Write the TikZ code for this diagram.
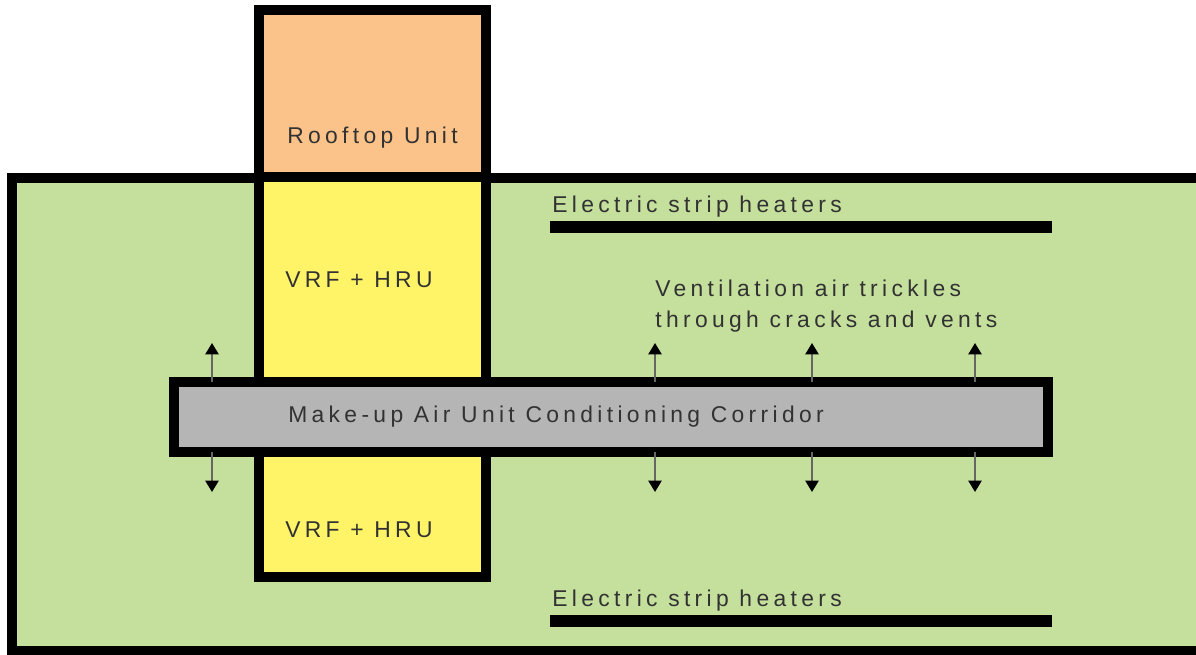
\documentclass[tikz,border=0pt]{standalone}
\usepackage{fontspec}
\setmainfont{Liberation Sans}
\newfontfamily\trackedfont[LetterSpace=19]{Liberation Sans}
\usepackage{tikz}
\usetikzlibrary{calc, arrows.meta}

\definecolor{roofcol}{RGB}{251,195,137}
\definecolor{vrfcol}{RGB}{255,243,104}
\definecolor{zonecol}{RGB}{197,223,157}
\definecolor{corrcol}{RGB}{181,181,181}
\definecolor{txtcol}{RGB}{50,50,50}

\tikzset{
  wall/.style={draw=black, line width=5.2pt},
  heater/.style={line width=6.5pt},
  lbl/.style={font=\trackedfont\fontsize{13}{18}\selectfont, text=txtcol, inner sep=0pt, anchor=west},
  vent/.style={line width=1.2pt, draw=black!60, -{Triangle[length=6.5pt,width=7.5pt,color=black]}}
}

\begin{document}
\begin{tikzpicture}[x=0.02cm, y=-0.02cm]
                \clip (0,0) rectangle (1196,655);
                \fill[white] (0,0) rectangle (1196,655);
                \coordinate (Z1) at (12,178);
                \coordinate (Z2) at (1222,651);
                \coordinate (R1) at (259,10);
                \coordinate (R2) at (486,177);
                \coordinate (V2) at (486,577);
                \coordinate (C1) at (174,382);
                \coordinate (C2) at (1048,452);
                \draw[wall, fill=zonecol] (Z1) rectangle (Z2);
                \draw[wall, fill=vrfcol] (R1 |- R2) rectangle (V2);
                \draw[wall, fill=roofcol] (R1) rectangle (R2);
                \draw[wall, fill=corrcol] (C1) rectangle (C2);
                \draw[heater] (550,227) -- (1052,227);
                \draw[heater] (550,621) -- (1052,621);
                \foreach \x [count=\i] in {212,655,812,975} {
                  \coordinate (up\i) at (\x,343);
                  \coordinate (dn\i) at (\x,492);
                  \draw[vent] (C1 -| up\i) -- (up\i);
                  \draw[vent] (C2 -| dn\i) -- (dn\i);
                }
                \node[lbl] (roof) at (287,138) {Rooftop Unit};
                \node[lbl] (vrfA) at (285,280) {VRF + HRU};
                \node[lbl] (vrfB) at (285,530) {VRF + HRU};
                \node[lbl] (corr) at (288,417) {Make-up Air Unit Conditioning Corridor};
                \node[lbl] (heatA) at (552,207) {Electric strip heaters};
                \node[lbl] (heatB) at (552,601) {Electric strip heaters};
                \node[lbl, align=left] (trickle) at (655,306) {Ventilation air trickles\\through cracks and vents};
            \end{tikzpicture}
\end{document}
